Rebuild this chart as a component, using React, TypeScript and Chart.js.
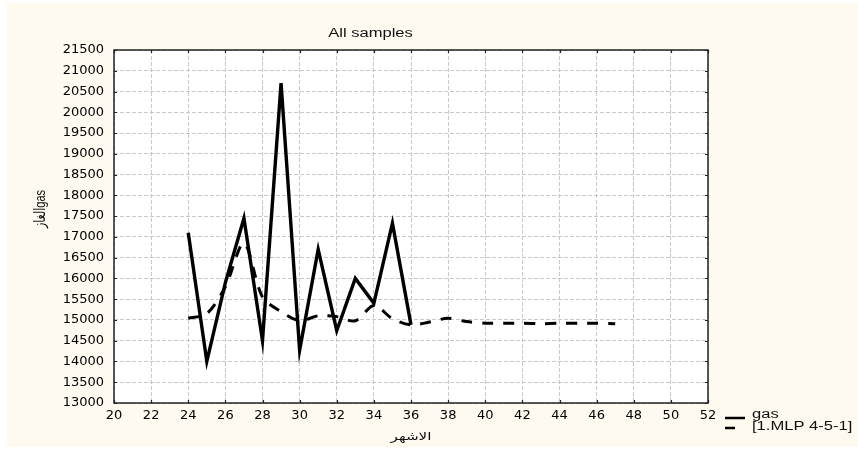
import React, { useEffect, useRef } from "react";
import { Chart, registerables } from "chart.js";

Chart.register(...registerables);

// ---- data ----
const titleText = "All samples";
const xTitle = "الاشهر";
const yTitle = "الغازgas";
const gasLabel = "gas";
const mlpLabel = "[1.MLP 4-5-1]";

const gasMonths = [24, 25, 26, 27, 28, 29, 30, 31, 32, 33, 34, 35, 36];
const gasValues = [17100, 14000, 15900, 17450, 14500, 20700, 14270, 16700, 14740, 16000, 15400, 17330, 14880];

const mlpMonths = [24, 25, 26, 27, 28, 29, 30, 31, 32, 33, 34, 35, 36, 37, 38, 39, 40, 41, 42, 43, 44, 45, 46, 47];
const mlpValues = [15040, 15150, 15800, 16850, 15550, 15200, 14980, 15100, 15080, 14980, 15350, 15030, 14880, 14950, 15040, 14960, 14920, 14920, 14920, 14910, 14920, 14920, 14920, 14910];

const xMin = 20;
const xMax = 52;
const xStep = 2;
const yMin = 13000;
const yMax = 21500;
const yStep = 500;

const SX = 1.38; // horizontal stretch of the reference's text

function stretchedText(
  ctx: CanvasRenderingContext2D,
  text: string,
  x: number,
  y: number,
  font: string,
  align: CanvasTextAlign,
  baseline: CanvasTextBaseline,
  rotate = 0
) {
  ctx.save();
  ctx.translate(x, y);
  if (rotate) {
    ctx.rotate(rotate);
    ctx.scale(1, SX);
  } else {
    ctx.scale(SX, 1);
  }
  ctx.font = font;
  ctx.fillStyle = "#111";
  ctx.textAlign = align;
  ctx.textBaseline = baseline;
  ctx.fillText(text, 0, 0);
  ctx.restore();
}

const decorPlugin = {
  id: "decor",
  beforeDraw(chart: any) {
    const { ctx, chartArea } = chart;
    ctx.save();
    ctx.fillStyle = "#ffffff";
    ctx.fillRect(chartArea.left, chartArea.top, chartArea.right - chartArea.left, chartArea.bottom - chartArea.top);
    ctx.restore();
  },
  afterDraw(chart: any) {
    const { ctx, chartArea } = chart;
    const { left, top, right, bottom } = chartArea;
    const xs = chart.scales.x;
    const ys = chart.scales.y;
    ctx.save();
    // frame
    ctx.strokeStyle = "#222";
    ctx.lineWidth = 1.5;
    ctx.setLineDash([]);
    ctx.strokeRect(left, top, right - left, bottom - top);
    // inner ticks
    ctx.lineWidth = 1.2;
    const tl = 3;
    xs.ticks.forEach((t: any) => {
      const px = Math.round(xs.getPixelForValue(t.value)) + 0.5;
      ctx.beginPath();
      ctx.moveTo(px, top);
      ctx.lineTo(px, top + tl);
      ctx.moveTo(px, bottom);
      ctx.lineTo(px, bottom - tl);
      ctx.stroke();
    });
    ys.ticks.forEach((t: any) => {
      const py = Math.round(ys.getPixelForValue(t.value)) + 0.5;
      ctx.beginPath();
      ctx.moveTo(left, py);
      ctx.lineTo(left + tl, py);
      ctx.moveTo(right, py);
      ctx.lineTo(right - tl, py);
      ctx.stroke();
    });
    ctx.restore();

    // titles
    stretchedText(ctx, titleText, 363.5, 30.5, "12px 'Liberation Sans', Arial, sans-serif", "center", "middle");
    stretchedText(ctx, xTitle, (left + right) / 2, 434, "11px 'DejaVu Sans', sans-serif", "center", "middle");
    stretchedText(ctx, yTitle, 34, 206, "11px 'Liberation Sans', 'DejaVu Sans', sans-serif", "center", "middle", -Math.PI / 2);

    // legend
    const ds = chart.data.datasets;
    ctx.save();
    ctx.strokeStyle = "#000";
    ctx.lineWidth = 2.5;
    ctx.beginPath();
    ctx.moveTo(718, 415);
    ctx.lineTo(738, 415);
    ctx.stroke();
    ctx.beginPath();
    ctx.moveTo(718, 425);
    ctx.lineTo(728, 425);
    ctx.stroke();
    ctx.restore();
    stretchedText(ctx, ds[0].label, 745, 415, "12px 'Liberation Sans', Arial, sans-serif", "left", "alphabetic");
    stretchedText(ctx, ds[1].label, 745, 427, "12px 'Liberation Sans', Arial, sans-serif", "left", "alphabetic");
  },
};

export default function App() {
  const canvasRef = useRef<HTMLCanvasElement | null>(null);

  useEffect(() => {
    const canvas = canvasRef.current;
    if (!canvas) return;
    const chart = new Chart(canvas, {
      type: "line",
      data: {
        datasets: [
          {
            label: gasLabel,
            data: gasMonths.map((m, i) => ({ x: m, y: gasValues[i] })),
            borderColor: "#000",
            borderWidth: 3.4,
            pointRadius: 0,
            tension: 0,
            fill: false,
          },
          {
            label: mlpLabel,
            data: mlpMonths.map((m, i) => ({ x: m, y: mlpValues[i] })),
            borderColor: "#000",
            borderWidth: 3,
            borderDash: [11, 10],
            pointRadius: 0,
            tension: 0.3,
            fill: false,
          },
        ],
      },
      options: {
        animation: false,
        responsive: false,
        devicePixelRatio: 1,
        layout: { padding: { left: 0, top: 47, right: 150, bottom: 0 } },
        plugins: {
          legend: { display: false },
          title: { display: false },
          tooltip: { enabled: false },
        },
        scales: {
          x: {
            type: "linear",
            min: xMin,
            max: xMax,
            afterFit: (s: any) => {
              s.height = 44;
            },
            ticks: {
              stepSize: xStep,
              padding: 5,
              color: "#000",
              font: { family: "'DejaVu Sans', sans-serif", size: 13 },
              maxRotation: 0,
              autoSkip: false,
              callback: (v: any) => String(v),
            },
            grid: { color: "#c8c8c8", lineWidth: 1, drawTicks: false },
            border: { display: false, dash: [4, 2] },
          },
          y: {
            type: "linear",
            min: yMin,
            max: yMax,
            afterFit: (s: any) => {
              s.width = 107;
            },
            ticks: {
              stepSize: yStep,
              padding: 10,
              color: "#000",
              font: { family: "'DejaVu Sans', sans-serif", size: 13 },
              autoSkip: false,
              callback: (v: any) => String(v),
            },
            grid: { color: "#c8c8c8", lineWidth: 1, drawTicks: false },
            border: { display: false, dash: [4, 2] },
          },
        },
      },
      plugins: [decorPlugin],
    });
    return () => chart.destroy();
  }, []);

  return (
    <div
      style={{
        position: "absolute",
        left: 7,
        top: 3,
        width: 851,
        height: 444,
        background: "#fffaf0",
      }}
    >
      <canvas ref={canvasRef} width={851} height={444} style={{ display: "block" }} />
    </div>
  );
}
